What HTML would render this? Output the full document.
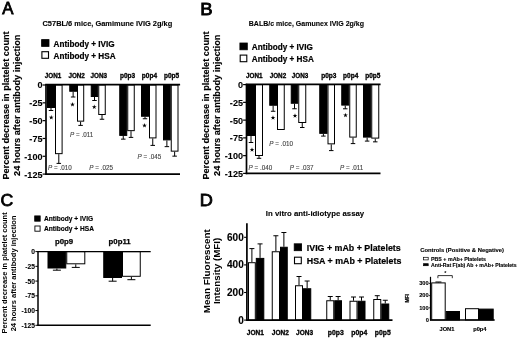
<!DOCTYPE html>
<html><head><meta charset="utf-8"><title>Figure</title>
<style>html,body{margin:0;padding:0;background:#fff;}svg{display:block;filter:blur(0.42px);}text{font-family:"Liberation Sans",sans-serif;}</style>
</head><body>
<svg width="520" height="338" viewBox="0 0 520 338">
<rect x="0" y="0" width="520" height="338" fill="#fff"/>
<g id="panelA">
<text transform="translate(2.2 14.4)" font-size="16.8" font-weight="normal" text-anchor="start" fill="#000" stroke="#000" stroke-width="0.8">A</text>
<text transform="translate(42.5 25.9)" font-size="7.45" font-weight="bold" text-anchor="start" fill="#000" stroke="#000" stroke-width="0.1">C57BL/6 mice, Gamimune IVIG 2g/kg</text>
<rect x="41.6" y="39.6" width="7.4" height="6.8" fill="#000" stroke="#000" stroke-width="0.8"/>
<rect x="41.9" y="51.7" width="6.6" height="6.6" fill="#fff" stroke="#000" stroke-width="1.1"/>
<text transform="translate(53.5 46.9) scale(0.976 1)" font-size="8.4" font-weight="bold" text-anchor="start" fill="#000" stroke="#000" stroke-width="0.2">Antibody + IVIG</text>
<text transform="translate(53.5 58.8) scale(0.976 1)" font-size="8.4" font-weight="bold" text-anchor="start" fill="#000" stroke="#000" stroke-width="0.2">Antibody + HSA</text>
<text transform="translate(8.7 105.5) rotate(-90) scale(0.932 1)" font-size="9.8" font-weight="bold" text-anchor="middle" fill="#000" stroke="#000" stroke-width="0.15">Percent decrease in platelet count</text>
<text transform="translate(19.75 105.3) rotate(-90) scale(0.934 1)" font-size="9.8" font-weight="bold" text-anchor="middle" fill="#000" stroke="#000" stroke-width="0.15">24 hours after antibody injection</text>
<line x1="51.0" y1="108" x2="51.0" y2="110.5" stroke="#000" stroke-width="1.0"/>
<line x1="48.75" y1="110.5" x2="53.25" y2="110.5" stroke="#000" stroke-width="1.0"/>
<rect x="47.5" y="85.0" width="7.0" height="22.5" fill="#000" stroke="#000" stroke-width="1.0"/>
<line x1="58.8" y1="154.15" x2="58.8" y2="163.4" stroke="#000" stroke-width="1.0"/>
<line x1="56.55" y1="163.4" x2="61.05" y2="163.4" stroke="#000" stroke-width="1.0"/>
<rect x="55.5" y="85.0" width="6.600000000000001" height="68.65" fill="#fff" stroke="#000" stroke-width="1.0"/>
<line x1="73.125" y1="91.75" x2="73.125" y2="97" stroke="#000" stroke-width="1.0"/>
<line x1="70.875" y1="97" x2="75.375" y2="97" stroke="#000" stroke-width="1.0"/>
<rect x="69.75" y="85.0" width="6.75" height="6.25" fill="#000" stroke="#000" stroke-width="1.0"/>
<line x1="80.6" y1="121.65" x2="80.6" y2="125.4" stroke="#000" stroke-width="1.0"/>
<line x1="78.35" y1="125.4" x2="82.85" y2="125.4" stroke="#000" stroke-width="1.0"/>
<rect x="77.5" y="85.0" width="6.200000000000003" height="36.150000000000006" fill="#fff" stroke="#000" stroke-width="1.0"/>
<line x1="94.5" y1="97" x2="94.5" y2="100.5" stroke="#000" stroke-width="1.0"/>
<line x1="92.25" y1="100.5" x2="96.75" y2="100.5" stroke="#000" stroke-width="1.0"/>
<rect x="91.25" y="85.0" width="6.5" height="11.5" fill="#000" stroke="#000" stroke-width="1.0"/>
<line x1="102.0" y1="115" x2="102.0" y2="119.25" stroke="#000" stroke-width="1.0"/>
<line x1="99.75" y1="119.25" x2="104.25" y2="119.25" stroke="#000" stroke-width="1.0"/>
<rect x="98.75" y="85.0" width="6.5" height="29.5" fill="#fff" stroke="#000" stroke-width="1.0"/>
<line x1="123.25" y1="135.9" x2="123.25" y2="139.15" stroke="#000" stroke-width="1.0"/>
<line x1="121.0" y1="139.15" x2="125.5" y2="139.15" stroke="#000" stroke-width="1.0"/>
<rect x="119.75" y="85.0" width="7.0" height="50.400000000000006" fill="#000" stroke="#000" stroke-width="1.0"/>
<line x1="131.0" y1="131.15" x2="131.0" y2="137.4" stroke="#000" stroke-width="1.0"/>
<line x1="128.75" y1="137.4" x2="133.25" y2="137.4" stroke="#000" stroke-width="1.0"/>
<rect x="127.75" y="85.0" width="6.5" height="45.650000000000006" fill="#fff" stroke="#000" stroke-width="1.0"/>
<line x1="145.0" y1="116.75" x2="145.0" y2="118.75" stroke="#000" stroke-width="1.0"/>
<line x1="142.75" y1="118.75" x2="147.25" y2="118.75" stroke="#000" stroke-width="1.0"/>
<rect x="141.5" y="85.0" width="7.0" height="31.25" fill="#000" stroke="#000" stroke-width="1.0"/>
<line x1="152.75" y1="138.4" x2="152.75" y2="145.4" stroke="#000" stroke-width="1.0"/>
<line x1="150.5" y1="145.4" x2="155.0" y2="145.4" stroke="#000" stroke-width="1.0"/>
<rect x="149.5" y="85.0" width="6.5" height="52.900000000000006" fill="#fff" stroke="#000" stroke-width="1.0"/>
<line x1="166.875" y1="140.4" x2="166.875" y2="146.65" stroke="#000" stroke-width="1.0"/>
<line x1="164.625" y1="146.65" x2="169.125" y2="146.65" stroke="#000" stroke-width="1.0"/>
<rect x="163.5" y="85.0" width="6.75" height="54.900000000000006" fill="#000" stroke="#000" stroke-width="1.0"/>
<line x1="174.625" y1="151.65" x2="174.625" y2="156.15" stroke="#000" stroke-width="1.0"/>
<line x1="172.375" y1="156.15" x2="176.875" y2="156.15" stroke="#000" stroke-width="1.0"/>
<rect x="171.25" y="85.0" width="6.75" height="66.15" fill="#fff" stroke="#000" stroke-width="1.0"/>
<line x1="46.0" y1="84.2" x2="46.0" y2="174.9" stroke="#000" stroke-width="1.7"/>
<line x1="45.2" y1="84.7" x2="180.1" y2="84.7" stroke="#000" stroke-width="1.8"/>
<line x1="45.2" y1="174.1" x2="180" y2="174.1" stroke="#000" stroke-width="1.7"/>
<line x1="42.6" y1="85.0" x2="45.6" y2="85.0" stroke="#000" stroke-width="1.2"/>
<text transform="translate(42.5 88.45) scale(0.92 1)" font-size="9.9" font-weight="bold" text-anchor="end" fill="#000" stroke="#000" stroke-width="0.1">0</text>
<line x1="42.6" y1="102.82" x2="45.6" y2="102.82" stroke="#000" stroke-width="1.2"/>
<text transform="translate(42.5 106.27) scale(0.92 1)" font-size="9.9" font-weight="bold" text-anchor="end" fill="#000" stroke="#000" stroke-width="0.1">-25</text>
<line x1="42.6" y1="120.64" x2="45.6" y2="120.64" stroke="#000" stroke-width="1.2"/>
<text transform="translate(42.5 124.09) scale(0.92 1)" font-size="9.9" font-weight="bold" text-anchor="end" fill="#000" stroke="#000" stroke-width="0.1">-50</text>
<line x1="42.6" y1="138.46" x2="45.6" y2="138.46" stroke="#000" stroke-width="1.2"/>
<text transform="translate(42.5 141.91) scale(0.92 1)" font-size="9.9" font-weight="bold" text-anchor="end" fill="#000" stroke="#000" stroke-width="0.1">-75</text>
<line x1="42.6" y1="156.28" x2="45.6" y2="156.28" stroke="#000" stroke-width="1.2"/>
<text transform="translate(42.5 159.73) scale(0.92 1)" font-size="9.9" font-weight="bold" text-anchor="end" fill="#000" stroke="#000" stroke-width="0.1">-100</text>
<line x1="42.6" y1="174.1" x2="45.6" y2="174.1" stroke="#000" stroke-width="1.2"/>
<text transform="translate(42.5 177.54999999999998) scale(0.92 1)" font-size="9.9" font-weight="bold" text-anchor="end" fill="#000" stroke="#000" stroke-width="0.1">-125</text>
<text transform="translate(53 77.5)" font-size="6.3" font-weight="bold" text-anchor="middle" fill="#000" stroke="#000" stroke-width="0.3">JON1</text>
<text transform="translate(76.6 77.5)" font-size="6.3" font-weight="bold" text-anchor="middle" fill="#000" stroke="#000" stroke-width="0.3">JON2</text>
<text transform="translate(98.7 77.5)" font-size="6.3" font-weight="bold" text-anchor="middle" fill="#000" stroke="#000" stroke-width="0.3">JON3</text>
<text transform="translate(127.5 77.5)" font-size="6.5" font-weight="bold" text-anchor="middle" fill="#000" stroke="#000" stroke-width="0.3">p0p3</text>
<text transform="translate(149.4 77.5)" font-size="6.5" font-weight="bold" text-anchor="middle" fill="#000" stroke="#000" stroke-width="0.3">p0p4</text>
<text transform="translate(171.5 77.5)" font-size="6.5" font-weight="bold" text-anchor="middle" fill="#000" stroke="#000" stroke-width="0.3">p0p5</text>
<polygon points="51.25,115.00 51.81,116.73 53.63,116.73 52.15,117.79 52.72,119.52 51.25,118.45 49.78,119.52 50.35,117.79 48.87,116.73 50.69,116.73" fill="#000"/>
<polygon points="72.50,102.00 73.06,103.73 74.88,103.73 73.40,104.79 73.97,106.52 72.50,105.45 71.03,106.52 71.60,104.79 70.12,103.73 71.94,103.73" fill="#000"/>
<polygon points="94.25,104.50 94.81,106.23 96.63,106.23 95.15,107.29 95.72,109.02 94.25,107.95 92.78,109.02 93.35,107.29 91.87,106.23 93.69,106.23" fill="#000"/>
<polygon points="144.50,123.00 145.06,124.73 146.88,124.73 145.40,125.79 145.97,127.52 144.50,126.45 143.03,127.52 143.60,125.79 142.12,124.73 143.94,124.73" fill="#000"/>
<text x="48" y="169.7" font-size="6.3" fill="#444" stroke="#444" stroke-width="0.12" font-weight="normal"><tspan font-style="italic">P</tspan> = .010</text>
<text x="70" y="136.7" font-size="6.3" fill="#444" stroke="#444" stroke-width="0.12" font-weight="normal"><tspan font-style="italic">P</tspan> = .011</text>
<text x="89.25" y="169.7" font-size="6.3" fill="#444" stroke="#444" stroke-width="0.12" font-weight="normal"><tspan font-style="italic">P</tspan> = .025</text>
<text x="137.5" y="158.95" font-size="6.3" fill="#444" stroke="#444" stroke-width="0.12" font-weight="normal"><tspan font-style="italic">P</tspan> = .045</text>
</g><g id="panelB">
<text transform="translate(200.2 14.8) scale(1.1 1)" font-size="16.8" font-weight="normal" text-anchor="start" fill="#000" stroke="#000" stroke-width="0.8">B</text>
<text transform="translate(248.8 25.9)" font-size="7.0" font-weight="bold" text-anchor="start" fill="#000" stroke="#000" stroke-width="0.1">BALB/c mice, Gamunex IVIG 2g/kg</text>
<rect x="239.9" y="43.0" width="7.4" height="6.8" fill="#000" stroke="#000" stroke-width="0.8"/>
<rect x="240.20000000000002" y="55.1" width="6.6" height="6.6" fill="#fff" stroke="#000" stroke-width="1.1"/>
<text transform="translate(251.8 50.3) scale(0.976 1)" font-size="8.4" font-weight="bold" text-anchor="start" fill="#000" stroke="#000" stroke-width="0.2">Antibody + IVIG</text>
<text transform="translate(251.8 61.9) scale(0.976 1)" font-size="8.4" font-weight="bold" text-anchor="start" fill="#000" stroke="#000" stroke-width="0.2">Antibody + HSA</text>
<text transform="translate(208.5 105.5) rotate(-90) scale(0.932 1)" font-size="9.8" font-weight="bold" text-anchor="middle" fill="#000" stroke="#000" stroke-width="0.15">Percent decrease in platelet count</text>
<text transform="translate(219.55 105.3) rotate(-90) scale(0.934 1)" font-size="9.8" font-weight="bold" text-anchor="middle" fill="#000" stroke="#000" stroke-width="0.15">24 hours after antibody injection</text>
<line x1="251.0" y1="136.0" x2="251.0" y2="142.5" stroke="#000" stroke-width="1.0"/>
<line x1="248.75" y1="142.5" x2="253.25" y2="142.5" stroke="#000" stroke-width="1.0"/>
<rect x="247.5" y="84.6" width="7.0" height="50.900000000000006" fill="#000" stroke="#000" stroke-width="1.0"/>
<line x1="259.0" y1="156.0" x2="259.0" y2="158.3" stroke="#000" stroke-width="1.0"/>
<line x1="256.75" y1="158.3" x2="261.25" y2="158.3" stroke="#000" stroke-width="1.0"/>
<rect x="255.5" y="84.6" width="7.0" height="70.9" fill="#fff" stroke="#000" stroke-width="1.0"/>
<line x1="273.125" y1="105.75" x2="273.125" y2="111.25" stroke="#000" stroke-width="1.0"/>
<line x1="270.875" y1="111.25" x2="275.375" y2="111.25" stroke="#000" stroke-width="1.0"/>
<rect x="269.75" y="84.6" width="6.75" height="20.650000000000006" fill="#000" stroke="#000" stroke-width="1.0"/>
<rect x="277.5" y="84.6" width="6.75" height="44.900000000000006" fill="#fff" stroke="#000" stroke-width="1.0"/>
<line x1="294.5" y1="103.75" x2="294.5" y2="108.75" stroke="#000" stroke-width="1.0"/>
<line x1="292.25" y1="108.75" x2="296.75" y2="108.75" stroke="#000" stroke-width="1.0"/>
<rect x="291.25" y="84.6" width="6.5" height="18.650000000000006" fill="#000" stroke="#000" stroke-width="1.0"/>
<line x1="302.25" y1="123" x2="302.25" y2="127.5" stroke="#000" stroke-width="1.0"/>
<line x1="300.0" y1="127.5" x2="304.5" y2="127.5" stroke="#000" stroke-width="1.0"/>
<rect x="298.75" y="84.6" width="7.0" height="37.900000000000006" fill="#fff" stroke="#000" stroke-width="1.0"/>
<line x1="323.375" y1="133.85" x2="323.375" y2="136.1" stroke="#000" stroke-width="1.0"/>
<line x1="321.125" y1="136.1" x2="325.625" y2="136.1" stroke="#000" stroke-width="1.0"/>
<rect x="319.75" y="84.6" width="7.25" height="48.75" fill="#000" stroke="#000" stroke-width="1.0"/>
<line x1="331.25" y1="144.35" x2="331.25" y2="150.6" stroke="#000" stroke-width="1.0"/>
<line x1="329.0" y1="150.6" x2="333.5" y2="150.6" stroke="#000" stroke-width="1.0"/>
<rect x="328.0" y="84.6" width="6.5" height="59.25" fill="#fff" stroke="#000" stroke-width="1.0"/>
<line x1="345.25" y1="105.6" x2="345.25" y2="108.8" stroke="#000" stroke-width="1.0"/>
<line x1="343.0" y1="108.8" x2="347.5" y2="108.8" stroke="#000" stroke-width="1.0"/>
<rect x="341.75" y="84.6" width="7.0" height="20.5" fill="#000" stroke="#000" stroke-width="1.0"/>
<line x1="353.0" y1="137.6" x2="353.0" y2="143.6" stroke="#000" stroke-width="1.0"/>
<line x1="350.75" y1="143.6" x2="355.25" y2="143.6" stroke="#000" stroke-width="1.0"/>
<rect x="349.75" y="84.6" width="6.5" height="52.5" fill="#fff" stroke="#000" stroke-width="1.0"/>
<line x1="367.125" y1="137.6" x2="367.125" y2="141.1" stroke="#000" stroke-width="1.0"/>
<line x1="364.875" y1="141.1" x2="369.375" y2="141.1" stroke="#000" stroke-width="1.0"/>
<rect x="363.5" y="84.6" width="7.25" height="52.5" fill="#000" stroke="#000" stroke-width="1.0"/>
<line x1="375.25" y1="138.6" x2="375.25" y2="141.85" stroke="#000" stroke-width="1.0"/>
<line x1="373.0" y1="141.85" x2="377.5" y2="141.85" stroke="#000" stroke-width="1.0"/>
<rect x="371.75" y="84.6" width="7.0" height="53.5" fill="#fff" stroke="#000" stroke-width="1.0"/>
<line x1="246.5" y1="83.8" x2="246.5" y2="174.20000000000002" stroke="#000" stroke-width="1.7"/>
<line x1="245.7" y1="84.3" x2="380.6" y2="84.3" stroke="#000" stroke-width="1.8"/>
<line x1="245.7" y1="173.4" x2="380.5" y2="173.4" stroke="#000" stroke-width="1.7"/>
<line x1="243.1" y1="84.6" x2="246.1" y2="84.6" stroke="#000" stroke-width="1.2"/>
<text transform="translate(243.0 88.05) scale(0.92 1)" font-size="9.9" font-weight="bold" text-anchor="end" fill="#000" stroke="#000" stroke-width="0.1">0</text>
<line x1="243.1" y1="102.36" x2="246.1" y2="102.36" stroke="#000" stroke-width="1.2"/>
<text transform="translate(243.0 105.81) scale(0.92 1)" font-size="9.9" font-weight="bold" text-anchor="end" fill="#000" stroke="#000" stroke-width="0.1">-25</text>
<line x1="243.1" y1="120.12" x2="246.1" y2="120.12" stroke="#000" stroke-width="1.2"/>
<text transform="translate(243.0 123.57000000000001) scale(0.92 1)" font-size="9.9" font-weight="bold" text-anchor="end" fill="#000" stroke="#000" stroke-width="0.1">-50</text>
<line x1="243.1" y1="137.88" x2="246.1" y2="137.88" stroke="#000" stroke-width="1.2"/>
<text transform="translate(243.0 141.32999999999998) scale(0.92 1)" font-size="9.9" font-weight="bold" text-anchor="end" fill="#000" stroke="#000" stroke-width="0.1">-75</text>
<line x1="243.1" y1="155.64" x2="246.1" y2="155.64" stroke="#000" stroke-width="1.2"/>
<text transform="translate(243.0 159.08999999999997) scale(0.92 1)" font-size="9.9" font-weight="bold" text-anchor="end" fill="#000" stroke="#000" stroke-width="0.1">-100</text>
<line x1="243.1" y1="173.4" x2="246.1" y2="173.4" stroke="#000" stroke-width="1.2"/>
<text transform="translate(243.0 176.85) scale(0.92 1)" font-size="9.9" font-weight="bold" text-anchor="end" fill="#000" stroke="#000" stroke-width="0.1">-125</text>
<text transform="translate(254.3 77.5)" font-size="6.3" font-weight="bold" text-anchor="middle" fill="#000" stroke="#000" stroke-width="0.3">JON1</text>
<text transform="translate(277.90000000000003 77.5)" font-size="6.3" font-weight="bold" text-anchor="middle" fill="#000" stroke="#000" stroke-width="0.3">JON2</text>
<text transform="translate(300.0 77.5)" font-size="6.3" font-weight="bold" text-anchor="middle" fill="#000" stroke="#000" stroke-width="0.3">JON3</text>
<text transform="translate(328.8 77.5)" font-size="6.5" font-weight="bold" text-anchor="middle" fill="#000" stroke="#000" stroke-width="0.3">p0p3</text>
<text transform="translate(350.7 77.5)" font-size="6.5" font-weight="bold" text-anchor="middle" fill="#000" stroke="#000" stroke-width="0.3">p0p4</text>
<text transform="translate(372.8 77.5)" font-size="6.5" font-weight="bold" text-anchor="middle" fill="#000" stroke="#000" stroke-width="0.3">p0p5</text>
<polygon points="252.00,147.30 252.56,149.03 254.38,149.03 252.90,150.09 253.47,151.82 252.00,150.75 250.53,151.82 251.10,150.09 249.62,149.03 251.44,149.03" fill="#000"/>
<polygon points="273.00,115.30 273.56,117.03 275.38,117.03 273.90,118.09 274.47,119.82 273.00,118.75 271.53,119.82 272.10,118.09 270.62,117.03 272.44,117.03" fill="#000"/>
<polygon points="295.00,113.30 295.56,115.03 297.38,115.03 295.90,116.09 296.47,117.82 295.00,116.75 293.53,117.82 294.10,116.09 292.62,115.03 294.44,115.03" fill="#000"/>
<polygon points="345.50,112.70 346.06,114.43 347.88,114.43 346.40,115.49 346.97,117.22 345.50,116.15 344.03,117.22 344.60,115.49 343.12,114.43 344.94,114.43" fill="#000"/>
<text x="248.5" y="169.7" font-size="6.3" fill="#444" stroke="#444" stroke-width="0.12" font-weight="normal"><tspan font-style="italic">P</tspan> = .040</text>
<text x="269.3" y="145.5" font-size="6.3" fill="#444" stroke="#444" stroke-width="0.12" font-weight="normal"><tspan font-style="italic">P</tspan> = .010</text>
<text x="289.75" y="169.7" font-size="6.3" fill="#444" stroke="#444" stroke-width="0.12" font-weight="normal"><tspan font-style="italic">P</tspan> = .037</text>
<text x="340.0" y="169.7" font-size="6.3" fill="#444" stroke="#444" stroke-width="0.12" font-weight="normal"><tspan font-style="italic">P</tspan> = .011</text>
</g>
<g id="panelC">
<text transform="translate(0.4 206.2) scale(1.05 1)" font-size="16.8" font-weight="normal" text-anchor="start" fill="#000" stroke="#000" stroke-width="0.8">C</text>
<rect x="34.7" y="215.9" width="5.5" height="5.3" fill="#000" stroke="#000" stroke-width="0.8"/>
<rect x="34.9" y="226" width="5.2" height="5.2" fill="#fff" stroke="#000" stroke-width="0.9"/>
<text transform="translate(43.9 221.2)" font-size="6.6" font-weight="bold" text-anchor="start" fill="#000" stroke="#000" stroke-width="0.15">Antibody + IVIG</text>
<text transform="translate(43.9 231.2)" font-size="6.6" font-weight="bold" text-anchor="start" fill="#000" stroke="#000" stroke-width="0.15">Antibody + HSA</text>
<text transform="translate(64.0 244.0)" font-size="7.8" font-weight="bold" text-anchor="middle" fill="#000" stroke="#000" stroke-width="0.25">p0p9</text>
<text transform="translate(119.6 244.0)" font-size="7.8" font-weight="bold" text-anchor="middle" fill="#000" stroke="#000" stroke-width="0.25">p0p11</text>
<text transform="translate(7.4 272.9) rotate(-90) scale(0.97 1)" font-size="7.7" font-weight="bold" text-anchor="middle" fill="#000" stroke="#000" stroke-width="0.0">Percent decrease in platelet count</text>
<text transform="translate(16.2 273.4) rotate(-90) scale(0.975 1)" font-size="7.7" font-weight="bold" text-anchor="middle" fill="#000" stroke="#000" stroke-width="0.0">24 hours after antibody injection</text>
<line x1="56.875" y1="268.5" x2="56.875" y2="270.2" stroke="#000" stroke-width="1.0"/>
<line x1="52.875" y1="270.2" x2="60.875" y2="270.2" stroke="#000" stroke-width="1.0"/>
<rect x="48.0" y="251.6" width="17.75" height="16.400000000000006" fill="#000" stroke="#000" stroke-width="1.0"/>
<line x1="75.775" y1="264.3" x2="75.775" y2="267.4" stroke="#000" stroke-width="1.0"/>
<line x1="71.775" y1="267.4" x2="79.775" y2="267.4" stroke="#000" stroke-width="1.0"/>
<rect x="66.75" y="251.6" width="18.049999999999997" height="12.200000000000017" fill="#fff" stroke="#000" stroke-width="1.0"/>
<line x1="112.625" y1="278.0" x2="112.625" y2="281.2" stroke="#000" stroke-width="1.0"/>
<line x1="108.625" y1="281.2" x2="116.625" y2="281.2" stroke="#000" stroke-width="1.0"/>
<rect x="103.75" y="251.6" width="17.75" height="25.900000000000006" fill="#000" stroke="#000" stroke-width="1.0"/>
<line x1="131.375" y1="276.8" x2="131.375" y2="279.7" stroke="#000" stroke-width="1.0"/>
<line x1="127.375" y1="279.7" x2="135.375" y2="279.7" stroke="#000" stroke-width="1.0"/>
<rect x="122.5" y="251.6" width="17.75" height="24.700000000000017" fill="#fff" stroke="#000" stroke-width="1.0"/>
<line x1="38" y1="251.0" x2="38" y2="325.90000000000003" stroke="#000" stroke-width="1.5"/>
<line x1="37.4" y1="251.6" x2="150.7" y2="251.6" stroke="#000" stroke-width="1.4"/>
<line x1="37.4" y1="325.3" x2="150.7" y2="325.3" stroke="#000" stroke-width="1.4"/>
<line x1="35.4" y1="251.6" x2="38" y2="251.6" stroke="#000" stroke-width="1.0"/>
<text transform="translate(35 254.2) scale(0.93 1)" font-size="7.2" font-weight="bold" text-anchor="end" fill="#000" stroke="#000" stroke-width="0.1">0</text>
<line x1="35.4" y1="266.34" x2="38" y2="266.34" stroke="#000" stroke-width="1.0"/>
<text transform="translate(35 268.94) scale(0.93 1)" font-size="7.2" font-weight="bold" text-anchor="end" fill="#000" stroke="#000" stroke-width="0.1">-25</text>
<line x1="35.4" y1="281.08" x2="38" y2="281.08" stroke="#000" stroke-width="1.0"/>
<text transform="translate(35 283.68) scale(0.93 1)" font-size="7.2" font-weight="bold" text-anchor="end" fill="#000" stroke="#000" stroke-width="0.1">-50</text>
<line x1="35.4" y1="295.82" x2="38" y2="295.82" stroke="#000" stroke-width="1.0"/>
<text transform="translate(35 298.42) scale(0.93 1)" font-size="7.2" font-weight="bold" text-anchor="end" fill="#000" stroke="#000" stroke-width="0.1">-75</text>
<line x1="35.4" y1="310.56" x2="38" y2="310.56" stroke="#000" stroke-width="1.0"/>
<text transform="translate(35 313.16) scale(0.93 1)" font-size="7.2" font-weight="bold" text-anchor="end" fill="#000" stroke="#000" stroke-width="0.1">-100</text>
<line x1="35.4" y1="325.3" x2="38" y2="325.3" stroke="#000" stroke-width="1.0"/>
<text transform="translate(35 327.90000000000003) scale(0.93 1)" font-size="7.2" font-weight="bold" text-anchor="end" fill="#000" stroke="#000" stroke-width="0.1">-125</text>
</g>
<g id="panelD">
<text transform="translate(199.7 205.9) scale(1.08 1)" font-size="16.8" font-weight="normal" text-anchor="start" fill="#000" stroke="#000" stroke-width="0.8">D</text>
<text transform="translate(265.8 216.3)" font-size="7.8" font-weight="bold" text-anchor="start" fill="#000" stroke="#000" stroke-width="0.1">In vitro anti-idiotype assay</text>
<text transform="translate(209.6 271.2) rotate(-90)" font-size="9.9" font-weight="bold" text-anchor="middle" fill="#000" stroke="#000" stroke-width="0.0">Mean Fluorescent</text>
<text transform="translate(220.1 270.9) rotate(-90)" font-size="9.8" font-weight="bold" text-anchor="middle" fill="#000" stroke="#000" stroke-width="0.0">Intensity (MFI)</text>
<line x1="251.9" y1="262.2" x2="251.9" y2="248.6" stroke="#000" stroke-width="1.0"/>
<line x1="249.4" y1="248.6" x2="254.4" y2="248.6" stroke="#000" stroke-width="1.0"/>
<rect x="248.5" y="262.7" width="6.800000000000011" height="57.400000000000034" fill="#fff" stroke="#000" stroke-width="1.0"/>
<line x1="260.05" y1="257.9" x2="260.05" y2="243.9" stroke="#000" stroke-width="1.0"/>
<line x1="257.55" y1="243.9" x2="262.55" y2="243.9" stroke="#000" stroke-width="1.0"/>
<rect x="256.3" y="258.4" width="7.5" height="61.700000000000045" fill="#000" stroke="#000" stroke-width="1.0"/>
<line x1="275.875" y1="251.25" x2="275.875" y2="235.75" stroke="#000" stroke-width="1.0"/>
<line x1="273.375" y1="235.75" x2="278.375" y2="235.75" stroke="#000" stroke-width="1.0"/>
<rect x="272.25" y="251.75" width="7.25" height="68.35000000000002" fill="#fff" stroke="#000" stroke-width="1.0"/>
<line x1="283.875" y1="246.75" x2="283.875" y2="232.5" stroke="#000" stroke-width="1.0"/>
<line x1="281.375" y1="232.5" x2="286.375" y2="232.5" stroke="#000" stroke-width="1.0"/>
<rect x="280.5" y="247.25" width="6.75" height="72.85000000000002" fill="#000" stroke="#000" stroke-width="1.0"/>
<line x1="299.0" y1="285.25" x2="299.0" y2="276.5" stroke="#000" stroke-width="1.0"/>
<line x1="296.5" y1="276.5" x2="301.5" y2="276.5" stroke="#000" stroke-width="1.0"/>
<rect x="295.5" y="285.75" width="7.0" height="34.35000000000002" fill="#fff" stroke="#000" stroke-width="1.0"/>
<line x1="307.125" y1="288.25" x2="307.125" y2="281" stroke="#000" stroke-width="1.0"/>
<line x1="304.625" y1="281" x2="309.625" y2="281" stroke="#000" stroke-width="1.0"/>
<rect x="303.5" y="288.75" width="7.25" height="31.350000000000023" fill="#000" stroke="#000" stroke-width="1.0"/>
<line x1="330.25" y1="300.25" x2="330.25" y2="296.5" stroke="#000" stroke-width="1.0"/>
<line x1="327.75" y1="296.5" x2="332.75" y2="296.5" stroke="#000" stroke-width="1.0"/>
<rect x="326.75" y="300.75" width="7.0" height="19.350000000000023" fill="#fff" stroke="#000" stroke-width="1.0"/>
<line x1="338.125" y1="300.25" x2="338.125" y2="296.5" stroke="#000" stroke-width="1.0"/>
<line x1="335.625" y1="296.5" x2="340.625" y2="296.5" stroke="#000" stroke-width="1.0"/>
<rect x="334.75" y="300.75" width="6.75" height="19.350000000000023" fill="#000" stroke="#000" stroke-width="1.0"/>
<line x1="353.5" y1="300.75" x2="353.5" y2="297" stroke="#000" stroke-width="1.0"/>
<line x1="351.0" y1="297" x2="356.0" y2="297" stroke="#000" stroke-width="1.0"/>
<rect x="350.0" y="301.25" width="7.0" height="18.850000000000023" fill="#fff" stroke="#000" stroke-width="1.0"/>
<line x1="361.5" y1="300.75" x2="361.5" y2="297" stroke="#000" stroke-width="1.0"/>
<line x1="359.0" y1="297" x2="364.0" y2="297" stroke="#000" stroke-width="1.0"/>
<rect x="358.0" y="301.25" width="7.0" height="18.850000000000023" fill="#000" stroke="#000" stroke-width="1.0"/>
<line x1="377.25" y1="299" x2="377.25" y2="295.7" stroke="#000" stroke-width="1.0"/>
<line x1="374.75" y1="295.7" x2="379.75" y2="295.7" stroke="#000" stroke-width="1.0"/>
<rect x="373.75" y="299.5" width="7.0" height="20.600000000000023" fill="#fff" stroke="#000" stroke-width="1.0"/>
<line x1="385.25" y1="303.5" x2="385.25" y2="300.25" stroke="#000" stroke-width="1.0"/>
<line x1="382.75" y1="300.25" x2="387.75" y2="300.25" stroke="#000" stroke-width="1.0"/>
<rect x="381.75" y="304.0" width="7.0" height="16.100000000000023" fill="#000" stroke="#000" stroke-width="1.0"/>
<line x1="246.9" y1="223.3" x2="246.9" y2="320.8" stroke="#000" stroke-width="1.7"/>
<line x1="246.3" y1="320.1" x2="392.5" y2="320.1" stroke="#000" stroke-width="1.6"/>
<line x1="244.1" y1="320.1" x2="246.9" y2="320.1" stroke="#000" stroke-width="1.1"/>
<text transform="translate(243.70000000000002 323.6)" font-size="10.0" font-weight="bold" text-anchor="end" fill="#000" stroke="#000" stroke-width="0.12">0</text>
<line x1="244.1" y1="292.5" x2="246.9" y2="292.5" stroke="#000" stroke-width="1.1"/>
<text transform="translate(243.70000000000002 296.0)" font-size="10.0" font-weight="bold" text-anchor="end" fill="#000" stroke="#000" stroke-width="0.12">200</text>
<line x1="244.1" y1="264.90000000000003" x2="246.9" y2="264.90000000000003" stroke="#000" stroke-width="1.1"/>
<text transform="translate(243.70000000000002 268.40000000000003)" font-size="10.0" font-weight="bold" text-anchor="end" fill="#000" stroke="#000" stroke-width="0.12">400</text>
<line x1="244.1" y1="237.3" x2="246.9" y2="237.3" stroke="#000" stroke-width="1.1"/>
<text transform="translate(243.70000000000002 240.8)" font-size="10.0" font-weight="bold" text-anchor="end" fill="#000" stroke="#000" stroke-width="0.12">600</text>
<text transform="translate(255.3 335.0)" font-size="6.5" font-weight="bold" text-anchor="middle" fill="#000" stroke="#000" stroke-width="0.3">JON1</text>
<text transform="translate(280.3 335.0)" font-size="6.5" font-weight="bold" text-anchor="middle" fill="#000" stroke="#000" stroke-width="0.3">JON2</text>
<text transform="translate(304.6 335.0)" font-size="6.5" font-weight="bold" text-anchor="middle" fill="#000" stroke="#000" stroke-width="0.3">JON3</text>
<text transform="translate(335.75 335.0)" font-size="6.8" font-weight="bold" text-anchor="middle" fill="#000" stroke="#000" stroke-width="0.3">p0p3</text>
<text transform="translate(359.3 335.0)" font-size="6.8" font-weight="bold" text-anchor="middle" fill="#000" stroke="#000" stroke-width="0.3">p0p4</text>
<text transform="translate(382.8 335.0)" font-size="6.8" font-weight="bold" text-anchor="middle" fill="#000" stroke="#000" stroke-width="0.3">p0p5</text>
<rect x="294.2" y="243.8" width="7.4" height="6.9" fill="#000" stroke="#000" stroke-width="0.8"/>
<rect x="294.5" y="257.2" width="6.8" height="6.5" fill="#fff" stroke="#000" stroke-width="1.1"/>
<text transform="translate(306.8 251.0)" font-size="8.85" font-weight="bold" text-anchor="start" fill="#000" stroke="#000" stroke-width="0.2">IVIG + mAb + Platelets</text>
<text transform="translate(306.8 263.9)" font-size="8.85" font-weight="bold" text-anchor="start" fill="#000" stroke="#000" stroke-width="0.2">HSA + mAb + Platelets</text>
</g>
<g id="inset">
<text transform="translate(420.2 252)" font-size="5.85" font-weight="bold" text-anchor="start" fill="#000" stroke="#000" stroke-width="0.12">Controls (Positive &amp; Negative)</text>
<rect x="423.6" y="257.3" width="4.6" height="2.6" fill="#fff" stroke="#000" stroke-width="0.7"/>
<rect x="423.6" y="263.7" width="4.6" height="2.0" fill="#000" stroke="#000" stroke-width="0.7"/>
<text transform="translate(431 260.8)" font-size="5.3" font-weight="bold" text-anchor="start" fill="#000" stroke="#000" stroke-width="0.12">PBS + mAb+ Platelets</text>
<text transform="translate(431 266.8)" font-size="5.2" font-weight="bold" text-anchor="start" fill="#000" stroke="#000" stroke-width="0.12">Anti-Rat F(ab) Ab + mAb+ Platelets</text>
<line x1="438.45" y1="282.4" x2="438.45" y2="282.0" stroke="#000" stroke-width="1.0"/>
<line x1="435.45" y1="282.0" x2="441.45" y2="282.0" stroke="#000" stroke-width="1.0"/>
<rect x="431.7" y="282.9" width="13.5" height="37.10000000000002" fill="#fff" stroke="#000" stroke-width="1.0"/>
<rect x="446.2" y="311.5" width="13.300000000000011" height="8.5" fill="#000" stroke="#000" stroke-width="1.0"/>
<rect x="465.5" y="308.7" width="13.0" height="11.300000000000011" fill="#fff" stroke="#000" stroke-width="1.0"/>
<rect x="479.5" y="309.1" width="13.699999999999989" height="10.899999999999977" fill="#000" stroke="#000" stroke-width="1.0"/>
<line x1="430.5" y1="276.8" x2="430.5" y2="320.6" stroke="#000" stroke-width="1.2"/>
<line x1="430.0" y1="320" x2="494.7" y2="320" stroke="#000" stroke-width="1.4"/>
<text transform="translate(428.9 321.9)" font-size="5.7" font-weight="bold" text-anchor="end" fill="#000" stroke="#000" stroke-width="0.1">0</text>
<line x1="428.9" y1="307.8" x2="430.5" y2="307.8" stroke="#000" stroke-width="0.8"/>
<text transform="translate(428.7 309.5)" font-size="5.7" font-weight="bold" text-anchor="end" fill="#000" stroke="#000" stroke-width="0.1">100</text>
<line x1="428.9" y1="295.6" x2="430.5" y2="295.6" stroke="#000" stroke-width="0.8"/>
<text transform="translate(428.7 297.3)" font-size="5.7" font-weight="bold" text-anchor="end" fill="#000" stroke="#000" stroke-width="0.1">200</text>
<line x1="428.9" y1="283.4" x2="430.5" y2="283.4" stroke="#000" stroke-width="0.8"/>
<text transform="translate(428.7 285.09999999999997)" font-size="5.7" font-weight="bold" text-anchor="end" fill="#000" stroke="#000" stroke-width="0.1">300</text>
<text transform="translate(408.6 298.3) rotate(-90)" font-size="5.0" font-weight="bold" text-anchor="middle" fill="#000" stroke="#000" stroke-width="0.2">MFI</text>
<text transform="translate(446.9 331.0)" font-size="5.7" font-weight="bold" text-anchor="middle" fill="#000" stroke="#000" stroke-width="0.15">JON1</text>
<text transform="translate(479.8 331.0)" font-size="5.7" font-weight="bold" text-anchor="middle" fill="#000" stroke="#000" stroke-width="0.15">p0p4</text>
<path d="M437.9 278.2 V275.6 H452.3 V278.2" fill="none" stroke="#000" stroke-width="0.8"/>
<text transform="translate(445.3 275.3)" font-size="5.5" font-weight="bold" text-anchor="middle" fill="#000" stroke="#000" stroke-width="0.0">*</text>
</g>
</svg></body></html>
